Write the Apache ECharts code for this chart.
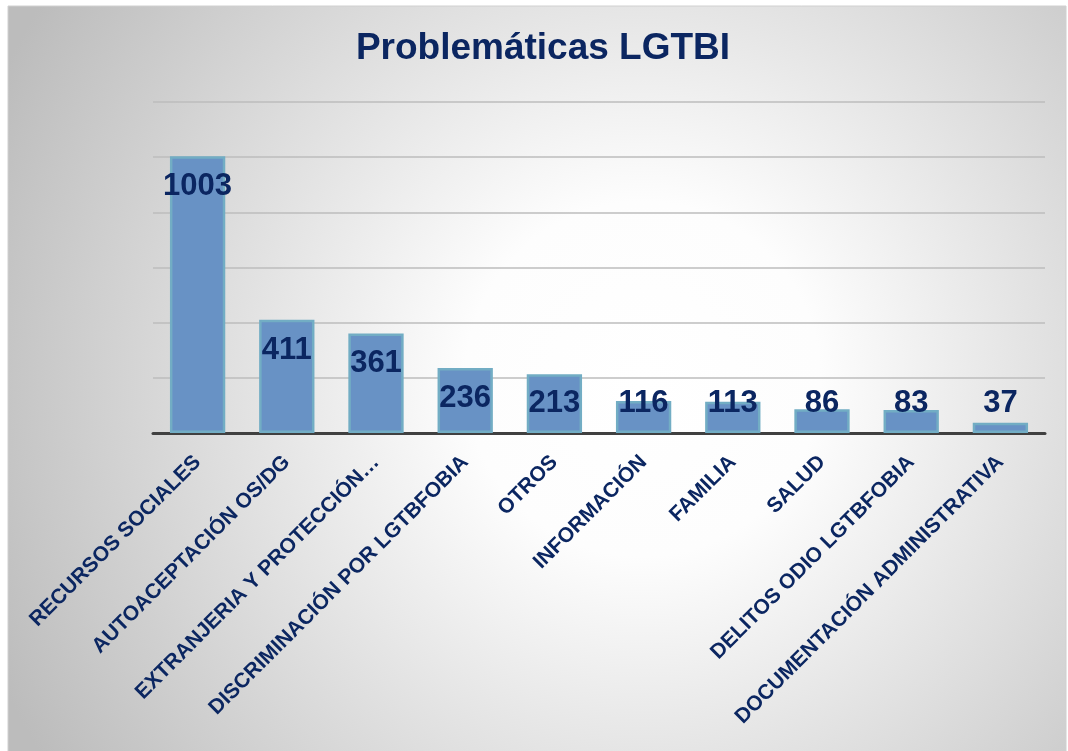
<!DOCTYPE html>
<html>
<head>
<meta charset="utf-8">
<title>Problemáticas LGTBI</title>
<script src="https://cdn.jsdelivr.net/npm/echarts@6/dist/echarts.min.js"></script>
<style>
  html, body { margin: 0; padding: 0; background: #ffffff; }
  #chart { width: 1068px; height: 751px; }
</style>
</head>
<body>
<div id="chart"></div>
<script>
var categories = [
  'RECURSOS SOCIALES',
  'AUTOACEPTACIÓN OS/DG',
  'EXTRANJERIA Y PROTECCIÓN…',
  'DISCRIMINACIÓN POR LGTBFOBIA',
  'OTROS',
  'INFORMACIÓN',
  'FAMILIA',
  'SALUD',
  'DELITOS ODIO LGTBFOBIA',
  'DOCUMENTACIÓN ADMINISTRATIVA'
];
var casos = [1003, 411, 361, 236, 213, 116, 113, 86, 83, 37];

var navy = '#0b2661';
var font = "'Liberation Sans', Arial, sans-serif";
var yMax = 1200;

// etiquetas dentro del extremo; en barras bajas se quedan sobre la base
var barData = casos.map(function(v) {
  var alto = v / yMax * 331;
  var dentro = alto > 61;
  return {
    value: v,
    label: dentro ? { position: 'insideTop', distance: 15 } : { position: 'insideBottom', distance: 14 }
  };
});

var myChart = echarts.init(document.getElementById('chart'));
var option = {
  backgroundColor: '#ffffff',
  graphic: [{
    type: 'rect',
    z: -10,
    silent: true,
    shape: { x: 8, y: 6, width: 1058, height: 746 },
    style: {
      fill: new echarts.graphic.RadialGradient(0.6, 0.5, 0.95, [
        { offset: 0, color: '#ffffff' },
        { offset: 0.25, color: '#fdfdfd' },
        { offset: 1, color: '#bcbcbc' }
      ]),
      stroke: '#d0d0d0',
      lineWidth: 1
    }
  }],
  title: {
    text: 'Problemáticas LGTBI',
    left: 538,
    textAlign: 'center',
    top: 25,
    textStyle: {
      color: navy,
      fontFamily: font,
      fontWeight: 'bold',
      fontSize: 37
    }
  },
  grid: {
    left: 153,
    right: 23,
    top: 102,
    bottom: 318
  },
  xAxis: {
    type: 'category',
    data: categories,
    axisTick: { show: false },
    axisLine: { lineStyle: { color: '#404040', width: 3 } },
    axisLabel: {
      interval: 0,
      rotate: 45,
      margin: 26,
      color: navy,
      fontFamily: font,
      fontWeight: 'bold',
      fontSize: 21
    }
  },
  yAxis: {
    type: 'value',
    min: 0,
    max: yMax,
    interval: 200,
    axisLabel: { show: false },
    axisLine: { show: false },
    axisTick: { show: false },
    splitLine: { lineStyle: { color: '#bcbcbc', width: 1.5 } }
  },
  series: [{
    name: 'Casos',
    type: 'bar',
    data: barData,
    barWidth: '62%',
    itemStyle: {
      color: '#6892c5',
      borderColor: '#72adc4',
      borderWidth: 2.5
    },
    label: {
      show: true,
      color: navy,
      fontFamily: font,
      fontWeight: 'bold',
      fontSize: 31
    }
  }]
};
myChart.setOption(option);
</script>
</body>
</html>
